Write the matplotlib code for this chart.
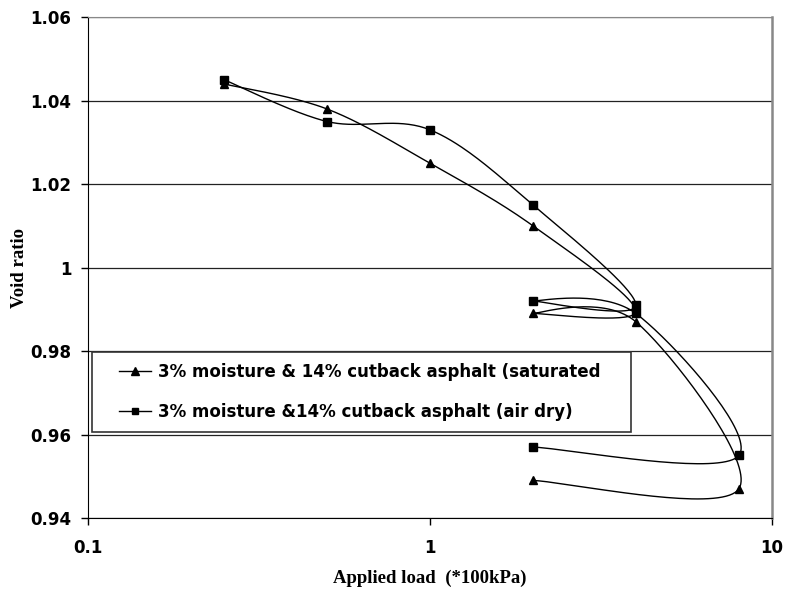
import numpy as np
import matplotlib
matplotlib.use("Agg")
import matplotlib.pyplot as plt
from matplotlib.patches import Rectangle

# load sequence (*100kPa) with unload/reload loops
load = [0.25, 0.5, 1, 2, 4, 2, 4, 8, 2]
void_saturated = [1.044, 1.038, 1.025, 1.010, 0.9895, 0.989, 0.987, 0.947, 0.949]
void_air_dry = [1.045, 1.035, 1.033, 1.015, 0.991, 0.992, 0.989, 0.955, 0.957]

label_sat = "3% moisture & 14% cutback asphalt (saturated"
label_dry = "3% moisture &14% cutback asphalt (air dry)"

fig = plt.figure(figsize=(7.87, 5.92), dpi=100)
ax = fig.add_axes([0.1118, 0.125, 0.8692, 0.846])
ax.set_xscale("log")
ax.set_xlim(0.1, 10)
ax.set_ylim(0.94, 1.06)

W, H = 684.0, 501.0


def smooth(xs, ys, n=40):
    # Excel-like smoothed line: bezier through the points, worked out in screen space
    u = (np.log10(xs) + 1) / 2 * W
    v = (np.array(ys) - 0.94) / 0.12 * H
    p = np.column_stack([u, v])
    out = []
    for i in range(len(p) - 1):
        p0 = p[i - 1] if i > 0 else p[i]
        p3 = p[i + 2] if i + 2 < len(p) else p[i + 1]
        p1, p2 = p[i], p[i + 1]
        c1 = p1 + (p2 - p0) / 6
        c2 = p2 - (p3 - p1) / 6
        t = np.linspace(0, 1, n)[:, None]
        seg = ((1 - t) ** 3) * p1 + 3 * (1 - t) ** 2 * t * c1 + 3 * (1 - t) * t ** 2 * c2 + t ** 3 * p2
        out.append(seg if i == 0 else seg[1:])
    s = np.vstack(out)
    return 10 ** (s[:, 0] / W * 2 - 1), s[:, 1] / H * 0.12 + 0.94


handles = []
for yv, mk, ms in [(void_saturated, "^", 6), (void_air_dry, "s", 5.5)]:
    sx, sy = smooth(load, yv)
    ax.plot(sx, sy, color="black", lw=1.0, zorder=3)
    ax.plot(load, yv, ls="none", marker=mk, ms=ms, color="black", zorder=4)
    h, = ax.plot([], [], color="black", lw=1.0, marker=mk, ms=ms - 0.5)
    handles.append(h)

ax.set_yticks([0.94, 0.96, 0.98, 1.0, 1.02, 1.04, 1.06])
ax.set_yticklabels(["0.94", "0.96", "0.98", "1", "1.02", "1.04", "1.06"])
ax.set_xticks([0.1, 1, 10])
ax.set_xticklabels(["0.1", "1", "10"])
ax.xaxis.set_minor_locator(matplotlib.ticker.NullLocator())

for lbl in ax.get_xticklabels() + ax.get_yticklabels():
    lbl.set_fontfamily("DejaVu Sans")
    lbl.set_fontweight("bold")
    lbl.set_fontsize(12)

ax.tick_params(axis="both", direction="out", length=5, width=1, color="black")
ax.tick_params(axis="x", pad=10)
ax.tick_params(axis="y", pad=7)
ax.grid(axis="y", color="#222222", lw=0.9)
ax.set_axisbelow(True)
ax.spines["left"].set_color("black")
ax.spines["bottom"].set_color("black")
ax.spines["right"].set_color("#888888")
ax.spines["top"].set_color("#888888")
ax.spines["right"].set_linewidth(1.8)

ax.set_xlabel("Applied load  (*100kPa)", fontfamily="Liberation Serif", fontweight="bold", fontsize=13.5)
ax.set_ylabel("Void ratio", fontfamily="Liberation Serif", fontweight="bold", fontsize=13.5)
ax.xaxis.set_label_coords(0.5, -0.103)
ax.yaxis.set_label_coords(-0.0876, 0.5)

# legend box
ax.add_patch(Rectangle((0.00585, 0.1717), 0.788, 0.1597, transform=ax.transAxes,
                       facecolor="white", edgecolor="#333333", lw=1.2, zorder=5))
leg = ax.legend(handles, [label_sat, label_dry], loc="center left", bbox_to_anchor=(0.0335, 0.2515),
                prop={"family": "DejaVu Sans", "weight": "bold", "size": 12},
                frameon=False, handlelength=1.9, handletextpad=0.4, labelspacing=1.35, borderpad=0)
leg.set_zorder(6)

fig.savefig("out.png", dpi=100)
